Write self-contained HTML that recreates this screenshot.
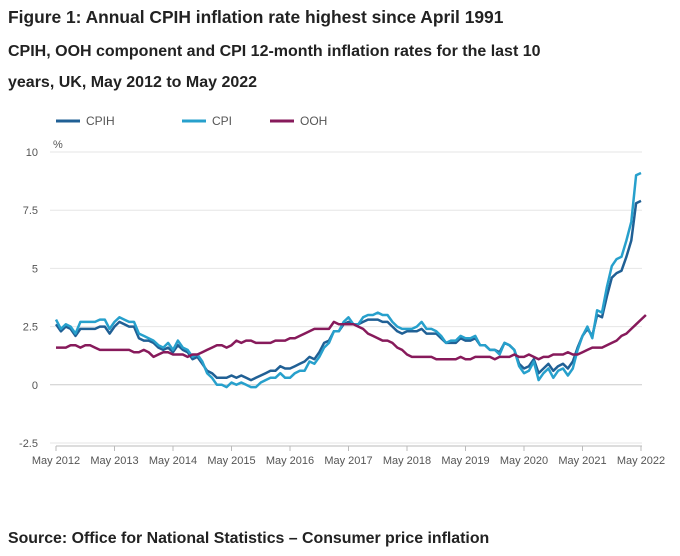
<!DOCTYPE html>
<html><head><meta charset="utf-8">
<style>
body{margin:0;background:#fff;font-family:"Liberation Sans",sans-serif;color:#222;}
#wrap{position:relative;width:680px;height:556px;overflow:hidden;}
.t{position:absolute;left:8px;font-weight:bold;white-space:nowrap;}
</style></head><body>
<div id="wrap">
<div class="t" style="top:7px;font-size:17.4px;">Figure 1: Annual CPIH inflation rate highest since April 1991</div>
<div class="t" style="top:43px;font-size:16px;">CPIH, OOH component and CPI 12-month inflation rates for the last 10</div>
<div class="t" style="top:74px;font-size:16px;">years, UK, May 2012 to May 2022</div>
<svg id="chart" width="680" height="556" style="position:absolute;left:0;top:0"></svg>
<div class="t" style="top:530px;font-size:15.9px;">Source: Office for National Statistics – Consumer price inflation</div>
</div>
<script>
const yTicks=[10,7.5,5,2.5,0,-2.5];
const yTickLabels=["10","7.5","5","2.5","0","-2.5"];
const xTickLabels=["May 2012","May 2013","May 2014","May 2015","May 2016","May 2017","May 2018","May 2019","May 2020","May 2021","May 2022"];
const seriesNames=["CPIH","CPI","OOH"];
const cpih=[2.6,2.3,2.5,2.4,2.1,2.4,2.4,2.4,2.4,2.5,2.5,2.2,2.5,2.7,2.6,2.5,2.5,2.0,1.9,1.9,1.8,1.6,1.5,1.6,1.4,1.7,1.5,1.4,1.1,1.2,0.9,0.6,0.5,0.3,0.3,0.3,0.4,0.3,0.4,0.3,0.2,0.3,0.4,0.5,0.6,0.6,0.8,0.7,0.7,0.8,0.9,1.0,1.2,1.1,1.4,1.8,1.9,2.3,2.3,2.6,2.7,2.6,2.6,2.7,2.8,2.8,2.8,2.7,2.7,2.5,2.3,2.2,2.3,2.3,2.3,2.4,2.2,2.2,2.2,2.0,1.8,1.8,1.8,2.0,1.9,1.9,2.0,1.7,1.7,1.5,1.5,1.4,1.8,1.7,1.5,0.9,0.7,0.8,1.1,0.5,0.7,0.9,0.6,0.8,0.9,0.7,1.0,1.6,2.1,2.4,2.1,3.0,2.9,3.8,4.6,4.8,4.9,5.5,6.2,7.8,7.9];
const cpi=[2.8,2.4,2.6,2.5,2.2,2.7,2.7,2.7,2.7,2.8,2.8,2.4,2.7,2.9,2.8,2.7,2.7,2.2,2.1,2.0,1.9,1.7,1.6,1.8,1.5,1.9,1.6,1.5,1.2,1.3,1.0,0.5,0.3,0.0,0.0,-0.1,0.1,0.0,0.1,0.0,-0.1,-0.1,0.1,0.2,0.3,0.3,0.5,0.3,0.3,0.5,0.6,0.6,1.0,0.9,1.2,1.6,1.8,2.3,2.3,2.7,2.9,2.6,2.6,2.9,3.0,3.0,3.1,3.0,3.0,2.7,2.5,2.4,2.4,2.4,2.5,2.7,2.4,2.4,2.3,2.1,1.8,1.9,1.9,2.1,2.0,2.0,2.1,1.7,1.7,1.5,1.5,1.3,1.8,1.7,1.5,0.8,0.5,0.6,1.0,0.2,0.5,0.7,0.3,0.6,0.7,0.4,0.7,1.5,2.1,2.5,2.0,3.2,3.1,4.2,5.1,5.4,5.5,6.2,7.0,9.0,9.1];
const ooh=[1.6,1.6,1.6,1.7,1.7,1.6,1.7,1.7,1.6,1.5,1.5,1.5,1.5,1.5,1.5,1.5,1.4,1.4,1.5,1.4,1.2,1.3,1.4,1.4,1.3,1.3,1.3,1.2,1.3,1.3,1.4,1.5,1.6,1.7,1.7,1.6,1.7,1.9,1.8,1.9,1.9,1.8,1.8,1.8,1.8,1.9,1.9,1.9,2.0,2.0,2.1,2.2,2.3,2.4,2.4,2.4,2.4,2.7,2.6,2.6,2.6,2.6,2.5,2.4,2.2,2.1,2.0,1.9,1.9,1.8,1.6,1.5,1.3,1.2,1.2,1.2,1.2,1.2,1.1,1.1,1.1,1.1,1.1,1.2,1.1,1.1,1.2,1.2,1.2,1.2,1.1,1.2,1.2,1.2,1.3,1.2,1.2,1.3,1.2,1.1,1.2,1.2,1.3,1.3,1.3,1.4,1.3,1.3,1.4,1.5,1.6,1.6,1.6,1.7,1.8,1.9,2.1,2.2,2.4,2.6,2.8,3.0];
const colors=["#206095","#27a0cc","#871a5b"];
const NS="http://www.w3.org/2000/svg";
const svg=document.getElementById("chart");
const x0=56,x1=641,yTop=152,yBot=443;
function xScale(i){return x0+(x1-x0)*i/120;}
function yScale(v){return yBot-(v+2.5)/12.5*(yBot-yTop);}
function mk(tag,attrs){const e=document.createElementNS(NS,tag);for(const k in attrs)e.setAttribute(k,attrs[k]);svg.appendChild(e);return e;}
yTicks.forEach((v,i)=>{
  const g=mk("line",{x1:50,x2:642,y1:yScale(v),y2:yScale(v),stroke:v===0?"#ccc":"#e6e6e6","stroke-width":1});
  
  
  const t=mk("text",{x:38,y:yScale(v)+4,"text-anchor":"end","font-size":11,fill:"#555","font-family":"Liberation Sans, sans-serif"});
  t.textContent=yTickLabels[i];
  
  
});
const pct=mk("text",{x:53,y:148,"font-size":11,fill:"#555","font-family":"Liberation Sans, sans-serif"});
pct.textContent="%";


const ax=mk("line",{x1:56,x2:642,y1:yBot+3,y2:yBot+3,stroke:"#bbb"});


xTickLabels.forEach((l,i)=>{
  const xx=xScale(i*12);
  const tk=mk("line",{x1:xx,x2:xx,y1:yBot+3,y2:yBot+8,stroke:"#bbb"});
  
  
  const t=mk("text",{x:xx,y:yBot+21,"text-anchor":"middle","font-size":11,fill:"#555","font-family":"Liberation Sans, sans-serif"});
  t.textContent=l;
  
  
});
[cpih,cpi,ooh].forEach((s,k)=>{
  const d=s.map((v,i)=>(i?"L":"M")+xScale(i).toFixed(1)+","+yScale(v).toFixed(1)).join("");
  const p=mk("path",{d:d,fill:"none",stroke:colors[k],"stroke-width":2.5,"stroke-linejoin":"round"});
  
  
});
const legX=[56,182,270];
seriesNames.forEach((n,k)=>{
  const l=mk("line",{x1:legX[k],x2:legX[k]+24,y1:121,y2:121,stroke:colors[k],"stroke-width":3});
  
  
  const t=mk("text",{x:legX[k]+30,y:125,"font-size":12,fill:"#555","font-family":"Liberation Sans, sans-serif"});
  t.textContent=n;
  
  
});
</script>
</body></html>
